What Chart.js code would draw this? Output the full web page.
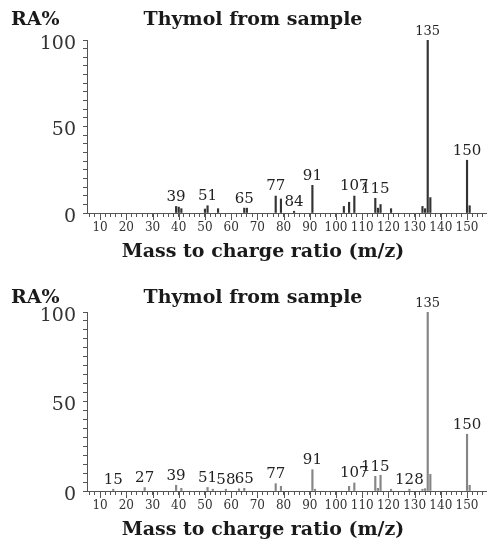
<!DOCTYPE html>
<html>
<head>
<meta charset="utf-8">
<script src="https://cdn.jsdelivr.net/npm/chart.js@4.4.1/dist/chart.umd.min.js"></script>
<style>
  html, body { margin: 0; padding: 0; background: #fff; overflow: hidden; }
  .panel { position: absolute; left: 0; width: 487px; height: 270px; overflow: hidden; }
  #top-panel { top: 0; }
  #bottom-panel { top: 278px; }
</style>
</head>
<body>
<div class="panel" id="top-panel"><canvas id="top-chart" width="492" height="270"></canvas></div>
<div class="panel" id="bottom-panel"><canvas id="bottom-chart" width="492" height="270"></canvas></div>
<script>
// Peaks (m/z, relative abundance %)
const topMz = [39, 40, 41, 50, 51, 55, 65, 66, 77, 79, 84, 91, 103, 105, 107, 115, 116, 117, 121, 133, 134, 135, 136, 150, 151];
const topRa = [3.8, 3.4, 2.5, 2.3, 4.2, 2.5, 2.8, 2.8, 9.8, 8.1, 1, 16, 3.8, 6.2, 9.8, 8.5, 2.8, 4.9, 2.5, 3.8, 2.5, 100, 8.9, 30.5, 4.2];
const topLabels = [39, 51, 65, 77, 84, 91, 107, 115, 135, 150];

const bottomMz = [15, 27, 39, 41, 51, 53, 58, 63, 65, 77, 79, 91, 92, 105, 107, 115, 116, 117, 121, 128, 133, 134, 135, 136, 150, 151];
const bottomRa = [1, 1.9, 3.2, 1.5, 2, 1, 1, 1.2, 1.5, 4.1, 2.6, 11.9, 1, 2.6, 4.5, 8.2, 1.5, 8.8, 1, 1, 1, 1.3, 100, 9.3, 31.7, 3.2];
const bottomLabels = [15, 27, 39, 51, 58, 65, 77, 91, 107, 115, 128, 135, 150];

const yTickLabels = [0, 50, 100];
const chartTitle = 'Thymol from sample';
const yTitle = 'RA%';
const xTitle = 'Mass to charge ratio (m/z)';

const SERIF = '"DejaVu Serif", serif';

// draws the header texts, the x title, the long ticks and the peak labels
const decorPlugin = {
    id: 'decor',
    afterDatasetsDraw(chart, args, opts) {
        const { ctx, chartArea } = chart;
        const x = chart.scales.x;
        const y = chart.scales.y;
        ctx.save();

        // longer tick marks every 10
        ctx.strokeStyle = '#555';
        ctx.lineWidth = 1;
        x.ticks.forEach(t => {
            if (t.value % 10 === 0) {
                const px = Math.round(x.getPixelForValue(t.value)) + 0.5;
                ctx.beginPath();
                ctx.moveTo(px, chartArea.bottom);
                ctx.lineTo(px, chartArea.bottom + 7);
                ctx.stroke();
            }
        });

        // peak labels
        ctx.fillStyle = '#222';
        ctx.textAlign = 'center';
        ctx.textBaseline = 'bottom';
        opts.labels.forEach(m => {
            const i = opts.mz.indexOf(m);
            const v = i >= 0 ? opts.ra[i] : 0;
            ctx.font = (m === 135 ? 13 : 15) + 'px ' + SERIF;
            ctx.fillText(String(m), x.getPixelForValue(m), y.getPixelForValue(v) - 2);
        });

        // header
        ctx.fillStyle = '#1a1a1a';
        ctx.font = 'bold 19px ' + SERIF;
        ctx.textBaseline = 'middle';
        ctx.textAlign = 'left';
        ctx.fillText(yTitle, 11, 20);
        ctx.textAlign = 'center';
        ctx.fillText(chartTitle, 253, 20);

        // x axis title
        ctx.font = 'bold 19px ' + SERIF;
        ctx.fillText(xTitle, 263, 252);
        ctx.restore();
    }
};

function makeSpectrum(canvasId, mz, ra, labels, barColor, topPad) {
    return new Chart(document.getElementById(canvasId), {
        type: 'bar',
        data: {
            datasets: [{
                data: mz.map((m, i) => ({ x: m, y: ra[i] })),
                backgroundColor: barColor,
                barThickness: 1.5
            }]
        },
        options: {
            responsive: false,
            animation: false,
            layout: { padding: { top: topPad, left: 0, right: 0, bottom: 0 } },
            scales: {
                x: {
                    type: 'linear',
                    min: 5,
                    max: 158,
                    offset: false,
                    grid: { display: true, offset: false, drawOnChartArea: false, tickLength: 4, color: '#555' },
                    border: { color: '#555', width: 1 },
                    ticks: {
                        stepSize: 2,
                        includeBounds: false,
                        autoSkip: false,
                        maxRotation: 0,
                        padding: 4,
                        color: '#333',
                        font: { family: SERIF, size: 12 },
                        callback: (v) => (v % 10 === 0 ? String(v) : '')
                    },
                    afterFit: (scale) => { scale.height = 57; }
                },
                y: {
                    min: 0,
                    max: 100,
                    grid: { display: true, drawOnChartArea: false, tickLength: 4, color: '#555' },
                    border: { color: '#555', width: 1 },
                    ticks: {
                        stepSize: 5,
                        includeBounds: false,
                        autoSkip: false,
                        padding: 7,
                        labelOffset: 4,
                        color: '#333',
                        font: { family: SERIF, size: 19 },
                        callback: (v) => (yTickLabels.includes(v) ? String(v) : '')
                    },
                    afterFit: (scale) => { scale.width = 87; }
                }
            },
            plugins: {
                legend: { display: false },
                tooltip: { enabled: false },
                decor: { mz: mz, ra: ra, labels: labels }
            }
        },
        plugins: [decorPlugin]
    });
}

makeSpectrum('top-chart', topMz, topRa, topLabels, '#333', 40);
makeSpectrum('bottom-chart', bottomMz, bottomRa, bottomLabels, '#858585', 34);
</script>
</body>
</html>
